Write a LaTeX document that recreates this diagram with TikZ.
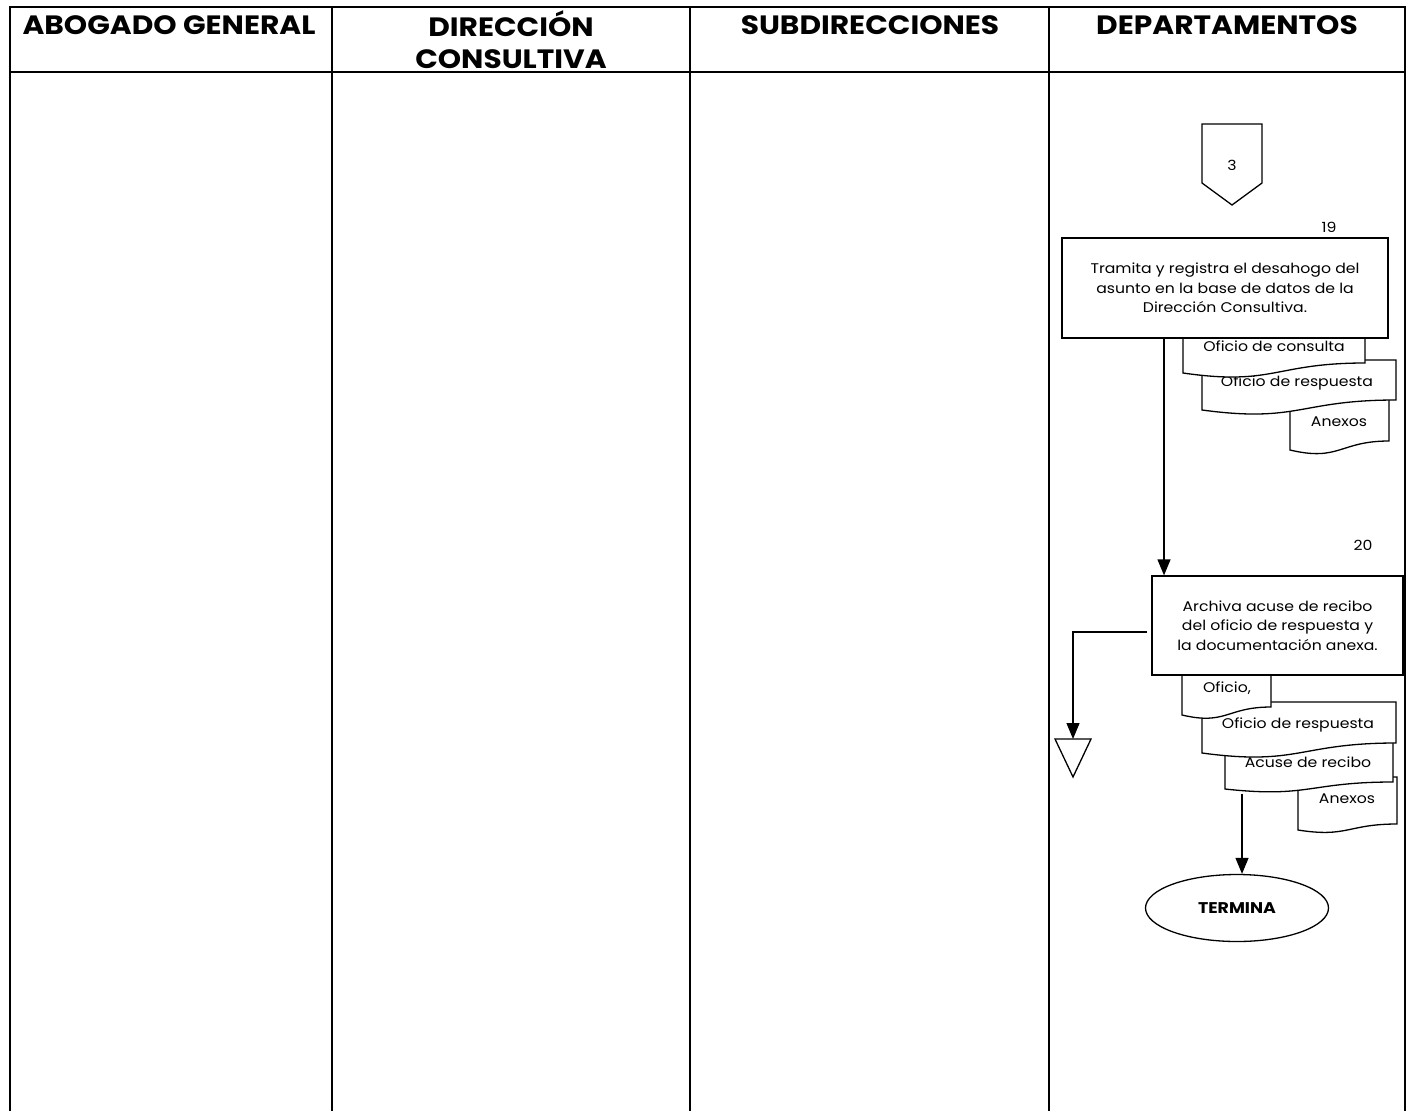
\documentclass[tikz,border=0pt]{standalone}
\usepackage{fontspec}
\setmainfont{Poppins}[FakeStretch=1.12]
\usetikzlibrary{shapes.geometric,arrows.meta,calc}

% document symbol with a wavy lower edge: name, left, top, right, right-end y, left-end y
\newcommand\docsym[6]{%
  \draw[docline] (#2,#3) -- (#4,#3) -- (#4,#5)
    .. controls ({(#2+#4)/2},#5) and ({(#2+#4)/2},{#5+2.31*(#6-#5)}) .. (#2,#6) -- cycle;
  \coordinate (#1) at ({(#2+#4)/2},#3);
}

\begin{document}
\begin{tikzpicture}[x=1pt,y=-1pt,
  lane/.style={line width=2pt},
  headline/.style={line width=2.6pt},
  hdr/.style={font=\fontsize{26.5}{32}\selectfont\bfseries, align=center},
  proc/.style={draw, line width=1.3pt, fill=white, align=center,
               font=\fontsize{14}{19.5}\selectfont, inner sep=0pt},
  docline/.style={draw, line width=1.3pt, fill=white},
  doctext/.style={font=\fontsize{14}{16}\selectfont, inner sep=0pt},
  num/.style={font=\fontsize{14}{16}\selectfont, inner sep=0pt},
  arr/.style={line width=1.3pt, -{Triangle[length=16pt,width=13pt]}},
  plain/.style={line width=1.3pt}]
\useasboundingbox (0,0) rectangle (1413,1111);

% swimlane frame
\draw[lane] (10,1111) -- (10,7);
\draw[lane] (1405,7) -- (1405,1111);
\draw[lane] (332,7) -- (332,1111);
\draw[lane] (690,7) -- (690,1111);
\draw[lane] (1049,7) -- (1049,1111);
\draw[headline] (9,7) -- (1406,7);
\draw[headline] (9,72) -- (1406,72);

% lane titles
\node[hdr] (h1) at (169,25) {ABOGADO GENERAL};
\node[hdr] (h2) at (511,40) {DIRECCIÓN\\CONSULTIVA};
\node[hdr] (h3) at (870,25) {SUBDIRECCIONES};
\node[hdr] (h4) at (1227,25) {DEPARTAMENTOS};

% off-page connector 3
\draw[plain] (1202,124) -- (1262,124) -- (1262,183) -- (1232,205) -- (1202,183) -- cycle;
\node[num] (c3) at (1232,165) {3};

% step 19: documents (drawn back to front), then the process box
\docsym{d3}{1290}{398}{1389}{441}{450}
\node[doctext] (t3) at (1339,422) {Anexos};
\docsym{d2}{1202}{360}{1396}{400}{410}
\node[doctext] (t2) at (1297,383) {Oficio de respuesta};
\docsym{d1}{1183}{330}{1365}{363}{373}
\node[doctext] (t1) at (1274,346) {Oficio de consulta};

\node[num] (n19) at (1329,227) {19};
\node[proc, minimum width=326pt, minimum height=100pt] (b19) at (1225,288)
  {Tramita y registra el desahogo del\\asunto en la base de datos de la\\Dirección Consultiva.};

% step 20: documents, then the process box
\docsym{e4}{1298}{777}{1397}{824}{830}
\node[doctext] (s4) at (1347,799) {Anexos};
\docsym{e3}{1225}{738}{1393}{782}{789}
\node[doctext] (s3) at (1308,762) {Acuse de recibo};
\docsym{e2}{1202}{702}{1396}{743}{753}
\node[doctext] (s2) at (1298,725) {Oficio de respuesta};
\docsym{e1}{1182}{670}{1271}{707}{715}
\node[doctext] (s1) at (1227,688) {Oficio,};

\node[num] (n20) at (1363,545) {20};
\node[proc, minimum width=251pt, minimum height=99pt] (b20) at (1277.5,625.5)
  {Archiva acuse de recibo\\del oficio de respuesta y\\la documentación anexa.};

% archive symbol
\draw[plain] (1055,739) -- (1091,739) -- (1073,777) -- cycle;
\coordinate (arch) at (1073,739);

% end terminator
\node[draw, ellipse, line width=1.3pt, minimum width=183pt, minimum height=67pt,
      inner sep=0pt, font=\fontsize{15.5}{18}\selectfont\bfseries] (term) at (1237,908) {TERMINA};

% connectors
\coordinate (a1) at (1164,338);
\draw[arr] (a1) -- (a1 |- b20.north);
\coordinate (a2) at (1147,632);
\draw[arr] (a2) -| (arch);
\coordinate (a3) at (1242,794);
\draw[arr] (a3) -- (a3 |- term.north);
\end{tikzpicture}
\end{document}
